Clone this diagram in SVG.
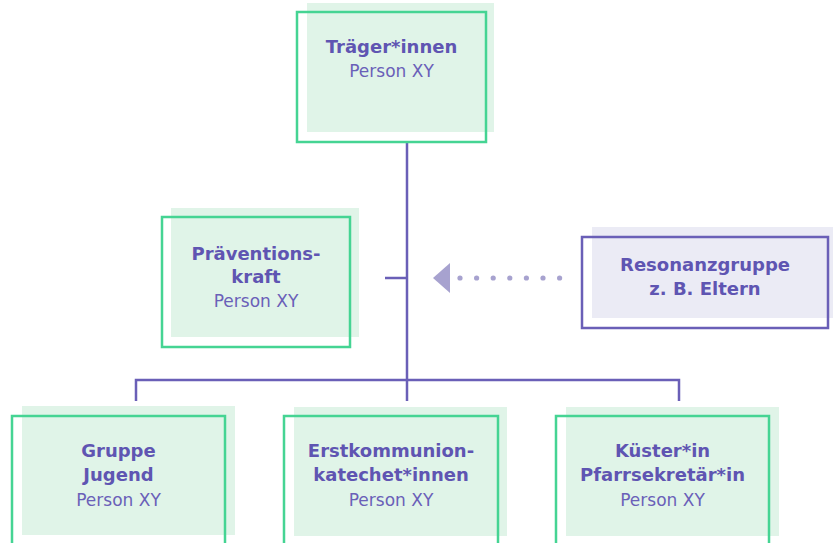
<svg xmlns="http://www.w3.org/2000/svg" width="833" height="543" viewBox="0 0 833 543">
<style>
.bg{fill:#e0f4e8}
.bgp{fill:#ebebf5}
.ol{fill:none;stroke:#45d493;stroke-width:2.5}
.olp{fill:none;stroke:#6a5fb7;stroke-width:2.5}
.ln{fill:none;stroke:#6a5fb7;stroke-width:2.5}
.t{font-family:"DejaVu Sans",sans-serif;font-weight:bold;font-size:18px;fill:#5f55b2;text-anchor:middle}
.s{font-family:"DejaVu Sans",sans-serif;font-size:17px;fill:#6a60b8;text-anchor:middle}
.dot{fill:#a7a2cf}
</style>
<rect width="833" height="543" fill="#ffffff"/>
<g id="connectors">
<path class="ln" d="M407,142 V380 M385,278 H407 M136,401 V380 H679 V401 M407,380 V401"/>
<polygon class="dot" points="433,278 450,263 450,293"/>
<circle class="dot" cx="460" cy="278" r="2.6"/>
<circle class="dot" cx="476.6" cy="278" r="2.6"/>
<circle class="dot" cx="493.2" cy="278" r="2.6"/>
<circle class="dot" cx="509.8" cy="278" r="2.6"/>
<circle class="dot" cx="526.4" cy="278" r="2.6"/>
<circle class="dot" cx="543" cy="278" r="2.6"/>
<circle class="dot" cx="559.6" cy="278" r="2.6"/>
</g>
<g id="traeger">
<rect class="bg" x="307" y="3" width="187" height="129"/>
<rect class="ol" x="297" y="12" width="189" height="130"/>
<text class="t" x="391.5" y="53">Träger*innen</text>
<text class="s" x="391.5" y="77">Person XY</text>
</g>
<g id="praevention">
<rect class="bg" x="171" y="208" width="188" height="129"/>
<rect class="ol" x="162" y="217" width="188" height="130"/>
<text class="t" x="256" y="260">Präventions-</text>
<text class="t" x="256" y="283">kraft</text>
<text class="s" x="256" y="307">Person XY</text>
</g>
<g id="resonanz">
<rect class="bgp" x="592" y="227" width="241" height="91"/>
<rect class="olp" x="582" y="237" width="246" height="91"/>
<text class="t" x="705" y="271">Resonanzgruppe</text>
<text class="t" x="705" y="295">z. B. Eltern</text>
</g>
<g id="jugend">
<rect class="bg" x="22" y="406" width="213" height="129"/>
<rect class="ol" x="12" y="416" width="213" height="140"/>
<text class="t" x="118.5" y="457">Gruppe</text>
<text class="t" x="118.5" y="481">Jugend</text>
<text class="s" x="118.5" y="506">Person XY</text>
</g>
<g id="erstkommunion">
<rect class="bg" x="294" y="407" width="213" height="129"/>
<rect class="ol" x="284" y="416" width="214" height="140"/>
<text class="t" x="391" y="457">Erstkommunion-</text>
<text class="t" x="391" y="481">katechet*innen</text>
<text class="s" x="391" y="506">Person XY</text>
</g>
<g id="kuester">
<rect class="bg" x="566" y="407" width="213" height="129"/>
<rect class="ol" x="556" y="416" width="213" height="140"/>
<text class="t" x="662.5" y="457">Küster*in</text>
<text class="t" x="662.5" y="481">Pfarrsekretär*in</text>
<text class="s" x="662.5" y="506">Person XY</text>
</g>
</svg>
